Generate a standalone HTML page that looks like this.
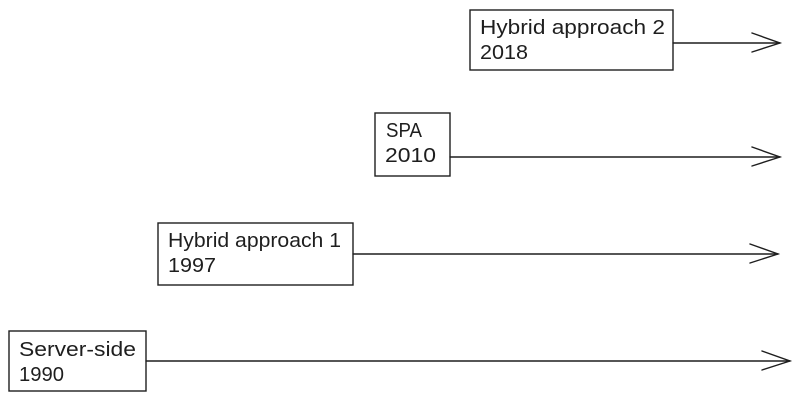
<!DOCTYPE html>
<html><head><style>
html,body{margin:0;padding:0;background:#fff;}
svg{display:block;}
text{font-family:"Liberation Sans",sans-serif;font-size:20px;fill:#1e1e1e;}
</style></head><body>
<svg width="800" height="402" viewBox="0 0 800 402" xmlns="http://www.w3.org/2000/svg">
<g fill="none" stroke="#1e1e1e" stroke-width="1.4" stroke-linecap="round">
<rect x="470" y="10" width="203" height="60"/>
<line x1="673" y1="43" x2="780" y2="43"/>
<polyline points="752,33 780,43 752,52"/>
<rect x="375" y="113" width="75" height="63"/>
<line x1="450" y1="157" x2="780" y2="157"/>
<polyline points="752,147 780,157 752,166"/>
<rect x="158" y="223" width="195" height="62"/>
<line x1="353" y1="254" x2="778" y2="254"/>
<polyline points="750,244 778,254 750,263"/>
<rect x="9" y="331" width="137" height="60"/>
<line x1="146" y1="361" x2="790" y2="361"/>
<polyline points="762,351 790,361 762,370"/>
</g>
<text x="480" y="34" textLength="185" lengthAdjust="spacingAndGlyphs">Hybrid approach 2</text>
<text x="480" y="59" textLength="48" lengthAdjust="spacingAndGlyphs">2018</text>
<text x="386" y="137" textLength="36" lengthAdjust="spacingAndGlyphs">SPA</text>
<text x="385" y="162" textLength="51" lengthAdjust="spacingAndGlyphs">2010</text>
<text x="168" y="247" textLength="173" lengthAdjust="spacingAndGlyphs">Hybrid approach 1</text>
<text x="168" y="272" textLength="48" lengthAdjust="spacingAndGlyphs">1997</text>
<text x="19" y="356" textLength="117" lengthAdjust="spacingAndGlyphs">Server-side</text>
<text x="19" y="381" textLength="45" lengthAdjust="spacingAndGlyphs">1990</text>
</svg>
</body></html>
